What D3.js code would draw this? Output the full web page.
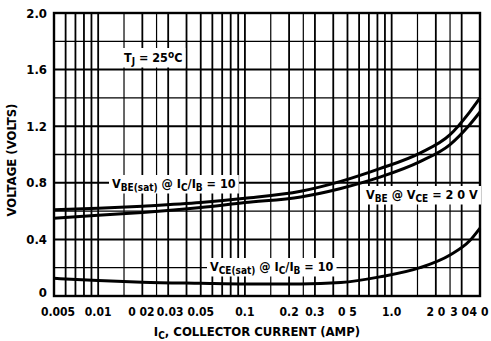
<!DOCTYPE html>
<html>
<head>
<meta charset="utf-8">
<script src="https://cdn.jsdelivr.net/npm/d3@7"></script>
<style>
  body { margin: 0; background: #fff; }
  svg text {
    font-family: "Liberation Sans Narrow", "DejaVu Sans Condensed", "Roboto Condensed", Arial, sans-serif;
    font-weight: bold;
    fill: #000;
  }
</style>
</head>
<body>
<div id="chart"></div>
<script>
const currents = [0.005, 0.01, 0.02, 0.05, 0.1, 0.24, 0.45, 0.83, 1.56, 2.5, 3.4, 4.0];
// V_BE(sat) @ Ic/Ib = 10
const vbeSat = [0.61, 0.62, 0.635, 0.66, 0.69, 0.74, 0.81, 0.90, 1.01, 1.14, 1.30, 1.40];
// V_BE @ V_CE = 2.0 V
const vbeOn = [0.55, 0.57, 0.59, 0.625, 0.66, 0.70, 0.76, 0.84, 0.95, 1.07, 1.21, 1.30];
// V_CE(sat) @ Ic/Ib = 10
const vceSat = [0.125, 0.11, 0.098, 0.09, 0.085, 0.085, 0.095, 0.135, 0.20, 0.29, 0.39, 0.48];

const xTickValues = [0.005, 0.01, 0.02, 0.03, 0.05, 0.1, 0.2, 0.3, 0.5, 1.0, 2.0, 3.0, 4.0];
const xTickLabels = ['0.005', '0.01', '0 02', '0.03', '0.05', '0.1', '0.2', '0.3', '0 5', '1.0', '2 0', '3 0', '4 0'];
const yTickValues = [0, 0.4, 0.8, 1.2, 1.6, 2.0];
const yTickLabels = ['0', '0.4', '0.8', '1.2', '1.6', '2.0'];

const width = 491, height = 341;

const x = d3.scaleLog().domain([0.005, 4]).range([54, 480]);
const y = d3.scaleLinear().domain([0, 2]).range([296, 13]);

const svg = d3.select('#chart')
    .append('svg')
    .attr('width', width)
    .attr('height', height);

// vertical grid: 1, 1.5, 2, 2.5, 3 ... 9 in each decade
const mults = [1, 1.5, 2, 2.5, 3, 4, 5, 6, 7, 8, 9];
const vLines = [];
[0.001, 0.01, 0.1, 1].forEach(dec => {
    mults.forEach(m => {
        const v = +(dec * m).toPrecision(3);
        if (v > 0.005 && v < 4) vLines.push({v, half: m === 1.5 || m === 2.5});
    });
});

const grid = svg.append('g');
grid.selectAll('line.v')
    .data(vLines)
    .enter()
    .append('line')
    .attr('class', 'v')
    .attr('x1', d => x(d.v)).attr('x2', d => x(d.v))
    .attr('y1', y(2)).attr('y2', y(0))
    .attr('stroke', '#000')
    .attr('stroke-width', d => d.half ? 1.2 : 1.8);

grid.selectAll('line.h')
    .data(d3.range(1, 10).map(i => i * 0.2))
    .enter()
    .append('line')
    .attr('class', 'h')
    .attr('x1', x(0.005)).attr('x2', x(4))
    .attr('y1', d => y(d)).attr('y2', d => y(d))
    .attr('stroke', '#000')
    .attr('stroke-width', (d, i) => i % 2 === 1 ? 2 : 1.3);

// the curves
const line = d3.line()
    .x((d, i) => x(currents[i]))
    .y(d => y(d))
    .curve(d3.curveMonotoneX);

[vbeSat, vbeOn, vceSat].forEach(series => {
    svg.append('path')
        .attr('d', line(series))
        .attr('fill', 'none')
        .attr('stroke', '#000')
        .attr('stroke-width', 3);
});

// frame
svg.append('rect')
    .attr('x', x(0.005)).attr('y', y(2))
    .attr('width', x(4) - x(0.005))
    .attr('height', y(0) - y(2))
    .attr('fill', 'none')
    .attr('stroke', '#000')
    .attr('stroke-width', 2.4);

// labels inside the plot, on white boxes
function boxedLabel(parts, lx, ly, size) {
    const g = svg.append('g');
    const rect = g.append('rect').attr('fill', '#fff');
    const t = g.append('text')
        .attr('x', lx).attr('y', ly)
        .style('font-size', size + 'px');
    parts.forEach(p => {
        t.append('tspan')
            .attr('baseline-shift', p.sub ? '-25%' : (p.sup ? '40%' : null))
            .style('font-size', (p.sub || p.sup) ? (size * 0.8) + 'px' : null)
            .text(p.s);
    });
    const b = t.node().getBBox();
    rect.attr('x', b.x - 3).attr('y', b.y - 1)
        .attr('width', b.width + 6).attr('height', b.height + 2);
}

boxedLabel([{s: 'T'}, {s: 'J', sub: true}, {s: ' = 25'}, {s: 'o', sup: true}, {s: 'C'}], 124, 62, 12.5);
boxedLabel([{s: 'V'}, {s: 'BE(sat)', sub: true}, {s: ' @ I'}, {s: 'C', sub: true}, {s: '/I'},
    {s: 'B', sub: true}, {s: ' = 10'}], 112, 188, 12.5);
boxedLabel([{s: 'V'}, {s: 'BE', sub: true}, {s: ' @ V'}, {s: 'CE', sub: true}, {s: ' = 2 0 V'}], 366, 199, 12.5);
boxedLabel([{s: 'V'}, {s: 'CE(sat)', sub: true}, {s: ' @ I'}, {s: 'C', sub: true}, {s: '/I'},
    {s: 'B', sub: true}, {s: ' = 10'}], 210, 271, 12.5);

// y tick labels
svg.selectAll('text.ytick')
    .data(yTickValues)
    .enter()
    .append('text')
    .attr('class', 'ytick')
    .attr('x', 47)
    .attr('y', d => y(d) - (d === 0 ? 4 : 0))
    .attr('dy', '0.36em')
    .attr('text-anchor', 'end')
    .style('font-size', '13px')
    .text((d, i) => yTickLabels[i]);

// x tick labels
const nudge = {0.005: 4, 0.02: -1, 0.03: 2, 3: -2, 4: -1};
svg.selectAll('text.xtick')
    .data(xTickValues)
    .enter()
    .append('text')
    .attr('class', 'xtick')
    .attr('x', d => x(d) + (nudge[d] || 0))
    .attr('y', 316)
    .attr('text-anchor', 'middle')
    .style('font-size', '12px')
    .text((d, i) => xTickLabels[i]);

// axis titles
const xt = svg.append('text')
    .attr('x', 257).attr('y', 336)
    .attr('text-anchor', 'middle')
    .style('font-size', '13px');
xt.append('tspan').text('I');
xt.append('tspan').attr('baseline-shift', '-25%').style('font-size', '10px').text('C');
xt.append('tspan').text(', COLLECTOR CURRENT (AMP)');

svg.append('text')
    .attr('transform', 'translate(16,160) rotate(-90)')
    .attr('text-anchor', 'middle')
    .style('font-size', '13px')
    .text('VOLTAGE (VOLTS)');
</script>
</body>
</html>
